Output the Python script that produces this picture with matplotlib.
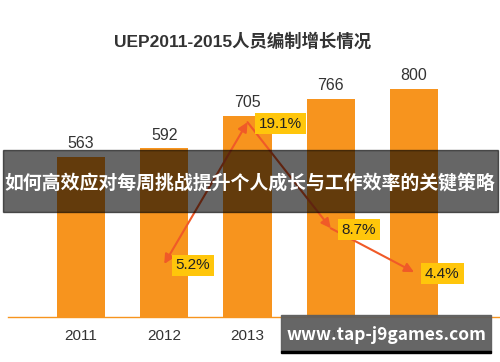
import matplotlib
matplotlib.use("Agg")
import matplotlib.pyplot as plt
from matplotlib.patches import Rectangle

# data
years = ["2011", "2012", "2013", "2014", "2015"]
staff = [563, 592, 705, 766, 800]
growth_years = ["2012", "2013", "2014", "2015"]
growth = [5.2, 19.1, 8.7, 4.4]

title = "UEP2011-2015人员编制增长情况"
banner = "如何高效应对每周挑战提升个人成长与工作效率的关键策略"
watermark = "www.tap-j9games.com"

plt.rcParams["font.family"] = ["Liberation Sans", "Noto Sans CJK SC", "DejaVu Sans"]

W, H = 500, 362
fig = plt.figure(figsize=(W / 100, H / 100), dpi=100)

# axes placed in pixel terms: baseline at y=317 from top
ax = fig.add_axes([0, (H - 317) / H, 1, 257 / H])
x = list(range(len(years)))
ax.bar(x, staff, width=0.577, color="#F7941E", zorder=2)
ax.set_xlim(-81 / 83.25, (W - 81) / 83.25)
ax.set_ylim(0, 257 / 0.285)

for xi, v in zip(x, staff):
    ax.annotate(str(v), (xi, v), xytext=(0, 9.5), textcoords="offset points",
                ha="center", va="center", fontsize=11.5, color="#333333")

for s in ["top", "right", "left"]:
    ax.spines[s].set_visible(False)
ax.spines["bottom"].set_color("#F7941E")
ax.spines["bottom"].set_linewidth(1)
ax.spines["bottom"].set_bounds(-73 / 83.25, (W - 81) / 83.25)
ax.set_yticks([])
ax.set_xticks(x)
ax.set_xticklabels(years, fontsize=11, color="#333333")
ax.tick_params(axis="x", length=0, pad=9)

# growth rate on a second scale
ax2 = ax.twinx()
ax2.set_ylim(0, 257 / 10.2)
ax2.axis("off")
gx = [years.index(y) for y in growth_years]
line_c = "#F05A28"
for i in range(len(gx) - 1):
    style = "<|-|>" if i == 0 else "-|>"
    ax2.annotate("", xy=(gx[i + 1], growth[i + 1]), xytext=(gx[i], growth[i]),
                 arrowprops=dict(arrowstyle=style, color=line_c, lw=1.5,
                                 mutation_scale=14, shrinkA=0, shrinkB=0),
                 zorder=3)

for xi, v in zip(gx, growth):
    ax2.annotate(f"{v}%", (xi, v), xytext=(8, -1), textcoords="offset points",
                 ha="left", va="center", fontsize=11, color="#222222",
                 bbox=dict(boxstyle="square,pad=0.25", fc="#FFC60B", ec="none"),
                 zorder=4)

fig.text(243 / W, 1 - 41 / H, title, ha="center", va="center",
         fontsize=12.5, fontweight="bold", color="#333333")

# dark banner across the middle
fig.add_artist(Rectangle((3 / W, 1 - 212 / H), 495 / W, 62 / H,
                         transform=fig.transFigure, color="black", alpha=0.6, zorder=10))
fig.text(250 / W, 1 - 184 / H, banner, ha="center", va="center", fontsize=13.6,
         fontweight="bold", color="white", family=["Noto Sans CJK SC"], zorder=11)

# watermark box
fig.add_artist(Rectangle((281 / W, 1 - 351 / H), 210 / W, 36 / H,
                         transform=fig.transFigure, color="#5E5E5E", alpha=0.95, zorder=10))
fig.add_artist(Rectangle((281 / W, 1 - 353 / H), 210 / W, 2 / H,
                         transform=fig.transFigure, color="black", zorder=10))
fig.text(386 / W, 1 - 335 / H, watermark, ha="center", va="center", fontsize=12.5,
         fontweight="bold", color="white", family=["Noto Sans CJK SC"], zorder=11)

fig.savefig("out.png", dpi=100)
